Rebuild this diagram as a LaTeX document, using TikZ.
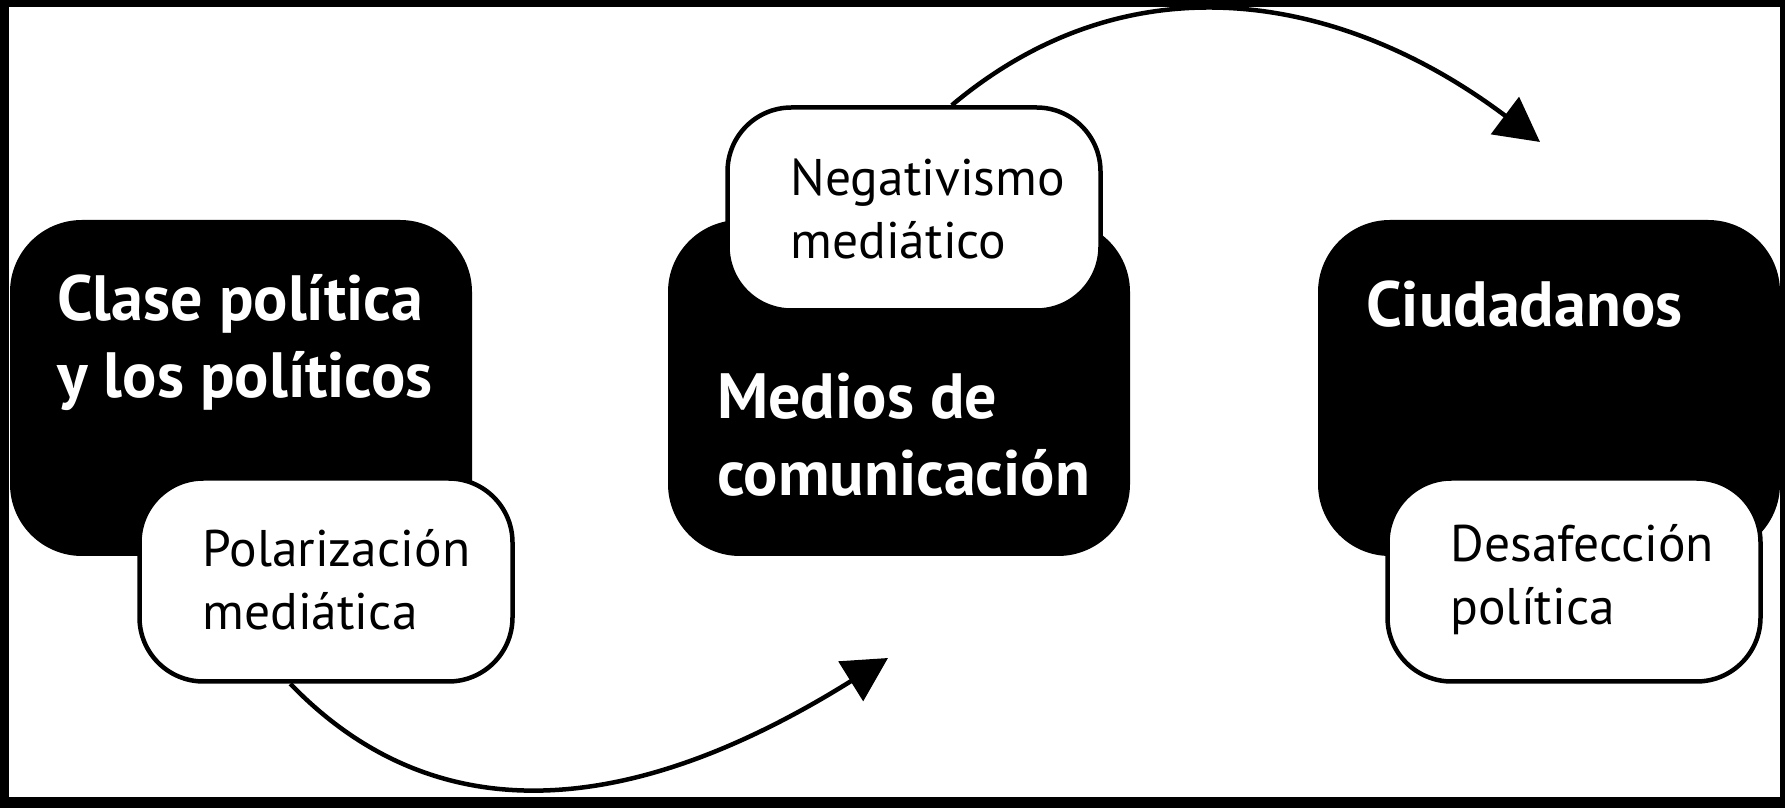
\documentclass[tikz,border=0pt]{standalone}
\usepackage{fontspec}
\setmainfont{PT Sans}
\usetikzlibrary{arrows.meta}
\hyphenpenalty=10000

\tikzset{
  darkbox/.style={rectangle,fill=black,rounded corners=72pt,minimum width=462pt,minimum height=336pt,inner sep=0pt},
  lightbox/.style={rectangle,draw=black,line width=4.5pt,fill=white,rounded corners=64pt,minimum width=373pt,minimum height=203pt,inner xsep=63pt,inner ysep=0pt,text width=247pt,align=left,font=\fontsize{51.5}{63}\selectfont},
  darktitle/.style={anchor=west,inner sep=0pt,align=left,text=white,font=\fontsize{64}{77}\selectfont\bfseries},
  flow/.style={line width=4.5pt,-{Triangle[length=44pt,width=46pt]}}
}

\begin{document}
\begin{tikzpicture}[x=1pt,y=1pt]
\useasboundingbox (0,0) rectangle (1785,808);
\fill[black] (0,0) rectangle (1785,808);
\fill[white] (9,11) rectangle (1780,801);
\node[darkbox] (clase)  at (241,420) {};
\node[darkbox] (medios) at (899,420) {};
\node[darkbox] (ciud)   at (1549,420) {};
\node[darktitle] (claseT)  at (57,465)   {Clase política\\y los políticos};
\node[darktitle] (mediosT) at (717,373)  {Medios de\\comunicación};
\node[darktitle] (ciudT)   at (1366,504) {Ciudadanos};
\node[lightbox] (polar) at (326,228)  {Polarización\\mediática};
\node[lightbox] (negat) at (914,599)  {Negativismo\\mediático};
\node[lightbox] (desaf) at (1574,228) {Desafección\\política};
\coordinate (tipA) at (888,150);
\coordinate (tipB) at (1540,666);
\draw[flow] (polar.251) to[out=-46,in=-148,looseness=1.05] (tipA);
\draw[flow] (negat.70)  to[out=40,in=143,looseness=1.04] (tipB);
\end{tikzpicture}
\end{document}
